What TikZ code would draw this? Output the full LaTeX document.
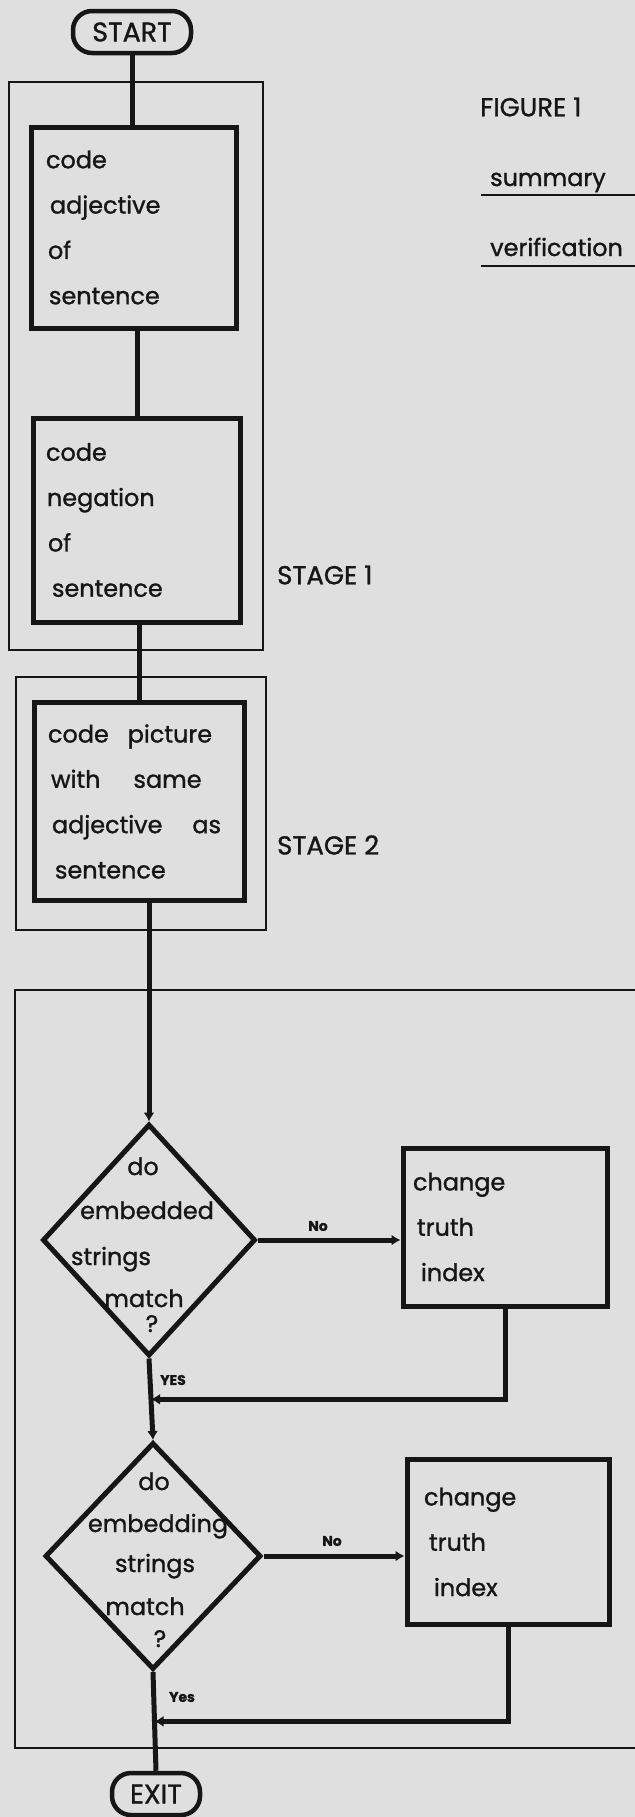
\documentclass[tikz,border=0pt]{standalone}
\usepackage{fontspec}
\setmainfont{Poppins}[FakeBold=1.2]
\usetikzlibrary{shapes.geometric,arrows.meta,calc}
\definecolor{paper}{RGB}{223,223,223}
\definecolor{ink}{RGB}{22,22,22}
\newcommand\boxfont{\fontsize{24}{45.5}\selectfont}
\newcommand\capfont{\fontsize{26}{30}\selectfont}
\newcommand\tagfont{\fontsize{14}{16}\selectfont\bfseries}
\begin{document}
\begin{tikzpicture}[x=1bp,y=-1bp,
  proc/.style={draw=ink,line width=5bp,inner ysep=0pt,align=left,font=\boxfont,text=ink},
  term/.style={draw=ink,line width=4.5bp,rounded corners=19bp,inner sep=0pt,font=\fontsize{27}{30}\selectfont,text=ink},
  dec/.style={diamond,draw=ink,line width=5bp,inner sep=0pt},
  dtext/.style={font=\boxfont,inner sep=0pt,anchor=base,text=ink},
  stagebox/.style={draw=ink,line width=2bp,inner sep=0pt},
  flow/.style={draw=ink,line width=5bp},
  flowarrow/.style={flow,-{Latex[length=9bp,width=11bp]}},
  lbl/.style={font=\capfont,inner sep=0pt,anchor=west,text=ink},
  tag/.style={font=\tagfont,inner sep=0pt,text=ink},
  ul/.style={draw=ink,line width=2bp},
]
\fill[paper] (0,0) rectangle (635,1817);
\useasboundingbox (0,0) rectangle (635,1817);

% frames
\node[stagebox,minimum width=254bp,minimum height=568bp] (stage1) at (136,366) {};
\node[stagebox,minimum width=250bp,minimum height=253bp] (stage2) at (141,803.5) {};
\node[stagebox,minimum width=685bp,minimum height=758bp] (frame) at (357.5,1369) {};

% nodes
\node[term,minimum width=118bp,minimum height=42bp] (start) at (132,32) {START};
\node[proc,inner xsep=14bp,text width=176bp,minimum height=201bp] (b1) at (134,227.5)
  {code\\\hspace*{4bp}adjective\\\hspace*{2bp}of\\\hspace*{3bp}sentence};
\node[proc,inner xsep=12bp,text width=182bp,minimum height=204bp] (b2) at (137,520)
  {code\\\hspace*{1bp}negation\\\hspace*{2bp}of\\\hspace*{6bp}sentence};
\node[proc,inner xsep=13bp,text width=183bp,minimum height=198bp] (b3) at (139.5,801.5)
  {code\hspace{19bp}picture\\\hspace*{3bp}with\hspace{33bp}same\\\hspace*{4bp}adjective\hspace{30bp}as\\\hspace*{7bp}sentence};
\node[dec,minimum width=213bp,minimum height=232bp] (d1) at (149,1240) {};
\node[proc,inner xsep=10bp,text width=184bp,minimum height=158bp] (b4) at (505,1227)
  {change\\\hspace*{4bp}truth\\\hspace*{8bp}index};
\node[dec,minimum width=216bp,minimum height=227bp] (d2) at (153,1556) {};
\node[proc,inner xsep=17bp,text width=168bp,minimum height=165bp] (b5) at (508,1542)
  {change\\\hspace*{5bp}truth\\\hspace*{10bp}index};
\node[term,minimum width=88bp,minimum height=42bp] (exit) at (156,1794) {EXIT};

% diamond texts
\node[dtext] (d1a) at (143,1175) {do};
\node[dtext] (d1b) at (147,1219) {embedded};
\node[dtext] (d1c) at (111,1265) {strings};
\node[dtext] (d1d) at (144,1307) {match};
\node[dtext] (d1e) at (152,1332) {?};
\node[dtext] (d2a) at (154,1490) {do};
\node[dtext] (d2b) at (158,1532) {embedding};
\node[dtext] (d2c) at (155,1572) {strings};
\node[dtext] (d2d) at (145,1615) {match};
\node[dtext] (d2e) at (160,1647) {?};

% connectors
\draw[flow] (start.south) -- (start.south |- b1.north);
\draw[flow] (b2.north |- b1.south) -- (b2.north);
\draw[flow] (b3.north |- b2.south) -- (b3.north);
\draw[flowarrow] (d1.north |- b3.south) -- (d1.north);
\draw[flowarrow] (d1.east) -- (d1.east -| b4.west);
\coordinate (m1) at ($(d1.south)!0.5!(d2.north)$);
\draw[flowarrow] (d1.south) -- (d2.north);
\draw[flowarrow] (b4.south) |- (m1);
\draw[flowarrow] (d2.east) -- (d2.east -| b5.west);
\coordinate (m2) at ($(d2.south)!0.5!(exit.north)$);
\draw[flow] (d2.south) -- (exit.north);
\draw[flowarrow] (b5.south) |- (m2);

% labels
\node[tag] (no1) at (318,1226) {No};
\node[tag] (no2) at (332,1541) {No};
\node[tag] (yes1) at (173,1380) {YES};
\node[tag] (yes2) at (182,1697) {Yes};

\node[lbl] (fig) at (480,107) {FIGURE 1};
\node[lbl] (st1) at (277,575) {STAGE 1};
\node[lbl] (st2) at (277,845) {STAGE 2};
\node[font=\boxfont,inner sep=0pt,anchor=base west,text=ink] (sum) at (490,186) {summary};
\node[font=\boxfont,inner sep=0pt,anchor=base west,text=ink] (ver) at (490,256) {verification};
\draw[ul] ($(sum.base west)+(-9,9)$) -- ++(170,0);
\draw[ul] ($(ver.base west)+(-9,10)$) -- ++(170,0);
\end{tikzpicture}
\end{document}
